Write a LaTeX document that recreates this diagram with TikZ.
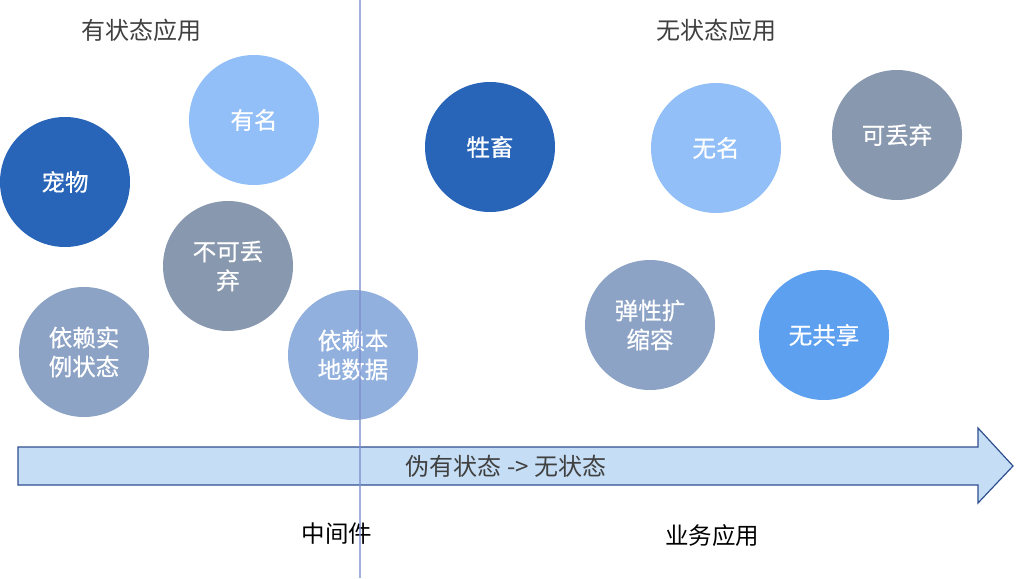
\documentclass[tikz,border=0pt]{standalone}
\usepackage{fontspec}
\setmainfont{Noto Sans CJK SC}
\newfontfamily\bubfont[FakeBold=0.6]{Noto Sans CJK SC}
\begin{document}
\begin{tikzpicture}[x=1pt,y=-1pt,
  bubble/.style={circle,minimum size=130pt,inner sep=0pt,text=white,font=\bubfont\fontsize{23.5}{29}\selectfont,align=center},
  title/.style={text=black!75,font=\fontsize{24}{28}\selectfont,inner sep=0pt},
  label/.style={text=black,font=\fontsize{23.5}{28}\selectfont,inner sep=0pt}]
\definecolor{cdark}{HTML}{2864B8}
\definecolor{clight}{HTML}{92BFF7}
\definecolor{cgray}{HTML}{8898AE}
\definecolor{cgrayblue}{HTML}{8CA3C6}
\definecolor{cmid}{HTML}{92B0DD}
\definecolor{cbright}{HTML}{5DA0F0}
\definecolor{arrowfill}{HTML}{C5DEF5}
\definecolor{arrowline}{HTML}{2F4F8F}
\definecolor{vline}{HTML}{7C8FD0}
\useasboundingbox (0,0) rectangle (1016,578);
% titles
\node[title] (t1) at (141,30) {有状态应用};
\node[title] (t2) at (716,30) {无状态应用};
% bubbles
\node[bubble,fill=cdark] (pet) at (65,182) {宠物};
\node[bubble,fill=clight] (named) at (254,120) {有名};
\node[bubble,fill=cgray] (nodrop) at (228,266) {不可丢\\弃};
\node[bubble,fill=cgrayblue] (inst) at (84,352) {依赖实\\例状态};
\node[bubble,fill=cmid] (local) at (353,355) {依赖本\\地数据};
\node[bubble,fill=cdark] (cattle) at (490,147) {牲畜};
\node[bubble,fill=clight] (noname) at (716,148) {无名};
\node[bubble,fill=cgray] (drop) at (897,135) {可丢弃};
\node[bubble,fill=cgrayblue] (elastic) at (650,325) {弹性扩\\缩容};
\node[bubble,fill=cbright] (noshare) at (824,335) {无共享};
% big arrow
\draw[fill=arrowfill,draw=arrowline,line width=1.2pt,line join=miter]
  (18,447) -- (978,447) -- (978,428) -- (1013,466) -- (978,503) -- (978,485) -- (18,485) -- cycle;
\node[title] (flow) at (506,466) {伪有状态 -> 无状态};
% bottom labels
\node[label] (mw) at (337,534) {中间件};
\node[label] (biz) at (712,536) {业务应用};
% divider
\coordinate (vtop) at (360,0);
\coordinate (vbot) at (360,578);
\draw[vline,opacity=0.7,line width=2pt] (vtop) -- (vbot);
\end{tikzpicture}
\end{document}
